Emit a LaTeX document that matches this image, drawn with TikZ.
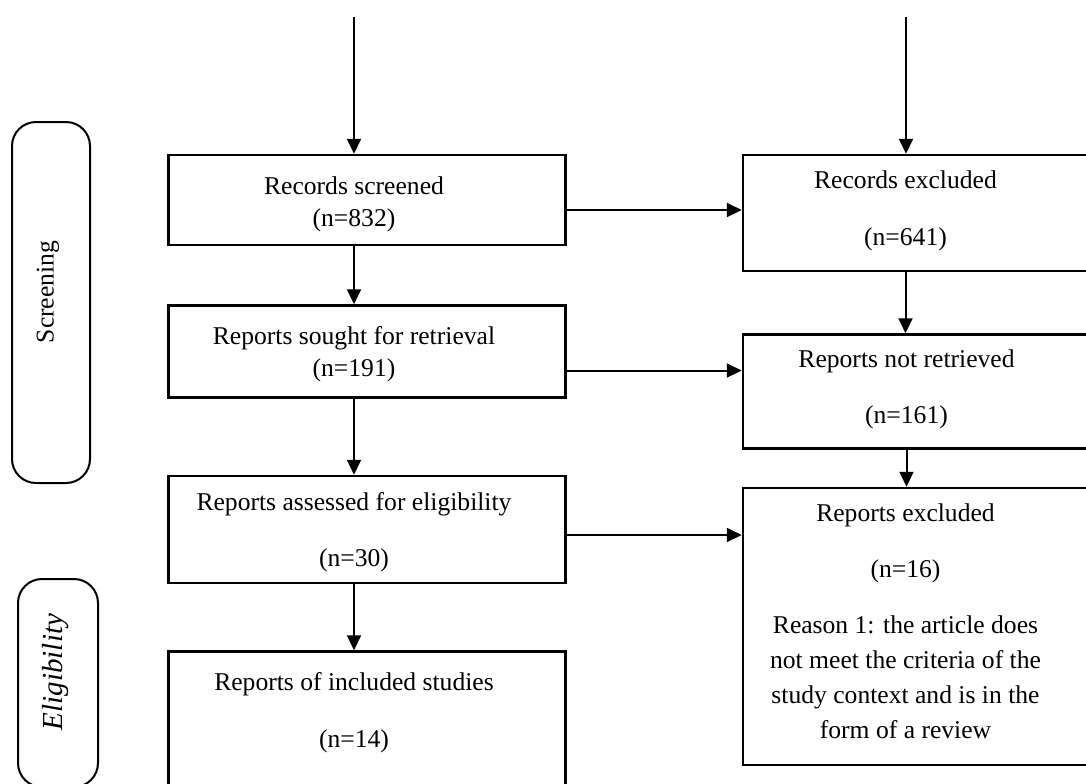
\documentclass[tikz,border=0pt]{standalone}
\usepackage{fontspec}
\setmainfont{Liberation Serif}
\usetikzlibrary{arrows.meta, positioning}

\begin{document}
\begin{tikzpicture}[
  x=0.5pt, y=-0.5pt,
  box/.style = {
    rectangle, draw, line width=1.25pt,
    minimum width=198.5pt, inner sep=0pt
  },
  rbox/.style = {box, minimum width=175pt},
  sidebox/.style = {
    rectangle, rounded corners=12pt, draw, line width=1pt,
    inner sep=0pt
  },
  txt/.style = {
    align=center, inner sep=0pt,
    font=\fontsize{12.8}{17.5}\selectfont
  },
  arr/.style = {-{Triangle[length=7.5pt, width=7pt]}, line width=1pt}
]
  \clip (0,0) rectangle (1086,783);

  \node[box, minimum height=45pt]                     (scr)    at (367,200) {};
  \node[box, minimum height=46pt, below=29pt of scr]  (sought) {};
  \node[box, minimum height=53.5pt, below=38pt of sought] (assess) {};
  \node[box, minimum height=93pt, below=33pt of assess]   (incl) {};

  \node[rbox, minimum height=58pt]                      (rex)  at (918,213) {};
  \node[rbox, minimum height=57pt, below=30.5pt of rex]  (nret) {};
  \node[rbox, minimum height=138.5pt, below=18.5pt of nret] (rexc) {};

  \node[sidebox, minimum width=39pt, minimum height=180.5pt] (scrlab) at (51,302.5) {};
  \node[sidebox, minimum width=40pt, minimum height=104pt]   (elilab) at (58,683) {};

  \node[txt] (scr-t)    at ([xshift=-6.5pt, yshift=-2pt]scr.center)      {Records screened\\[-1.5pt](n=832)};
  \node[txt] (sought-t) at ([xshift=-6.5pt, yshift=-1.5pt]sought.center) {Reports sought for retrieval\\[-1.5pt](n=191)};
  \node[txt] (assess-t) at ([xshift=-6.5pt, yshift=-1.25pt]assess.center) {Reports assessed for eligibility\\[10.8pt](n=30)};
  \node[txt] (incl-t)   at ([xshift=-6.5pt, yshift=16pt]incl.center)     {Reports of included studies\\[10.8pt](n=14)};

  \node[txt] (rex-t)  at ([xshift=-6.25pt, yshift=1pt]rex.center)   {Records excluded\\[10.8pt](n=641)};
  \node[txt] (nret-t) at ([xshift=-5.75pt, yshift=1pt]nret.center)  {Reports not retrieved\\[10.8pt](n=161)};
  \node[txt] (rexc-t) at ([xshift=-6.25pt, yshift=2.5pt]rexc.center) {Reports excluded\\[10.5pt](n=16)\\[10.5pt]
    Reason 1: the article does\\not meet the criteria of the\\study context and is in the\\form of a review};

  \node[txt, rotate=90] (scrlab-t) at (48,292) {Screening};
  \node[txt, rotate=90, font=\fontsize{14.5}{17}\selectfont\itshape] (elilab-t) at (56,672) {Eligibility};

  \coordinate (in-l) at (354,17);
  \coordinate (in-r) at (906,17);

  \draw[arr] (in-l) -- (in-l |- scr.north);
  \draw[arr] (scr-t |- scr.south)       -- (scr-t |- sought.north);
  \draw[arr] (sought-t |- sought.south) -- (sought-t |- assess.north);
  \draw[arr] (assess-t |- assess.south) -- (assess-t |- incl.north);

  \draw[arr] (in-r) -- (in-r |- rex.north);
  \draw[arr] (rex-t |- rex.south)   -- (rex-t |- nret.north);
  \draw[arr] (nret-t |- nret.south) -- (nret-t |- rexc.north);

  \draw[arr] ([yshift=-5pt]scr.east)       -- ([yshift=-5pt]scr.east -| rex.west);
  \draw[arr] ([yshift=-9.5pt]sought.east)  -- ([yshift=-9.5pt]sought.east -| nret.west);
  \draw[arr] ([yshift=-2.75pt]assess.east) -- ([yshift=-2.75pt]assess.east -| rexc.west);
\end{tikzpicture}
\end{document}
